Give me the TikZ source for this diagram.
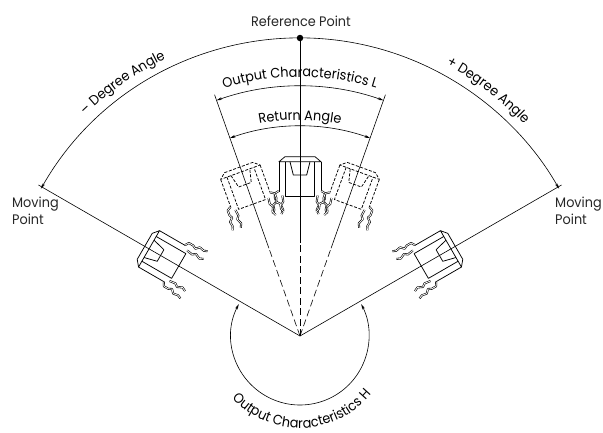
\documentclass[tikz,border=0pt]{standalone}
\usepackage{fontspec}
\setmainfont[FakeStretch=0.93]{Poppins}
\usetikzlibrary{arrows.meta,decorations.text}
\newcommand\lblfont{\fontsize{13.8}{16.5}\selectfont}
\newcommand\swbody[1]{%
  \draw[#1] (-15,179.3) -- (15,179.3) -- (21,174.3) -- (-21,174.3) -- cycle;
  \draw[#1] (-21,174.3) -- (-21,144.3);
  \draw[#1] (21,174.3) -- (21,144.3);
  \draw[#1] (-14.3,174.3) -- (-14.3,140) -- (14.3,140) -- (14.3,174.3);
  \draw[#1] (-10,174.3) -- (-6.7,161) -- (6.7,161) -- (10,174.3);
}
\newcommand\swlegs{%
  \draw[legline] (-21.3,145) -- (-25,142.7) -- (-25,137.7) -- (-23.3,134.3) -- (-26.7,131) -- (-25.7,126) -- (-27.2,122.4);
  \draw[legline] (-17.6,140.5) -- (-16.7,134.3) -- (-19,131) -- (-16.7,126) -- (-18.6,122);
  \draw[legline] (21.3,145) -- (25,142.7) -- (25,137.7) -- (23.3,134.3) -- (26.7,131) -- (25.7,126) -- (27.2,122.4);
  \draw[legline] (17.6,140.5) -- (16.7,134.3) -- (19,131) -- (16.7,126) -- (18.6,122);
}
\tikzset{
  base line/.style={line width=0.6pt, draw=black},
  dash line/.style={base line, dash pattern=on 7pt off 3.5pt},
  body line/.style={line width=0.75pt, draw=black, line join=round},
  body dash/.style={body line, dash pattern=on 3pt off 1.6pt},
  legline/.style={draw=black, line width=0.6pt, double=white, double distance=0.8pt, line join=round},
  arr/.style={base line, {Stealth[length=5.5pt,width=2.8pt]}-{Stealth[length=5.5pt,width=2.8pt]}},
  lbl/.style={font=\lblfont, text=black!85, inner sep=0pt},
}
\begin{document}
\begin{tikzpicture}[x=1pt,y=1pt]
\useasboundingbox (-300,-96) rectangle (303,336);
\coordinate (P) at (0,0);
\coordinate (R) at (90:298);
\coordinate (ML) at (150:302);
\coordinate (MR) at (30:302);
\coordinate (CD) at (90:93);
\coordinate (LD) at (109.5:93);
\coordinate (RD) at (70.5:93);
\coordinate (LT) at (109.5:256);
\coordinate (RT) at (70.5:256);
% radial lines
\draw[base line] (P) -- (ML);
\draw[base line] (P) -- (MR);
\draw[dash line] (P) -- (CD);
\draw[base line] (CD) -- (R);
\draw[dash line] (P) -- (LD);
\draw[base line] (LD) -- (LT);
\draw[dash line] (P) -- (RD);
\draw[base line] (RD) -- (RT);
% arcs
\draw[arr] (150.4:298) arc[start angle=150.4, end angle=29.6, radius=298];
\draw[arr] (109.5:250) arc[start angle=109.5, end angle=70.5, radius=250];
\draw[arr] (109.5:210) arc[start angle=109.5, end angle=70.5, radius=210];
\draw[arr] (152.5:69) arc[start angle=152.5, end angle=387.5, radius=69];
% reference point
\node[circle, fill=black, inner sep=0pt, minimum size=6.5pt] (dot) at (R) {};
\node[lbl, anchor=base] (reftxt) at (1,310) {Reference Point};
\node[lbl, anchor=north west, align=left] (mvl) at (-288,139) {Moving\\Point};
\node[lbl, anchor=north west, align=left] (mvr) at (255,139) {Moving\\Point};
% curved labels
\path[decorate, decoration={text along path, text={|\lblfont|Output Characteristics L}, text align=center}]
  (111:259) arc[start angle=111, end angle=69, radius=259];
\path[decorate, decoration={text along path, text={|\lblfont|Return Angle}, text align=center}]
  (107:216) arc[start angle=107, end angle=73, radius=216];
\path[decorate, decoration={text along path, text={|\lblfont|– Degree Angle}, text align=center}]
  (142:308) arc[start angle=142, end angle=108, radius=308];
\path[decorate, decoration={text along path, text={|\lblfont|+ Degree Angle}, text align=center}]
  (69.5:308) arc[start angle=69.5, end angle=35.5, radius=308];
\path[decorate, decoration={text along path, text={|\lblfont|Output Characteristics H}, text align=center}]
  (196:92) arc[start angle=196, end angle=347, radius=92];
% switches
\swbody{body line}
\swlegs
\begin{scope}[rotate=20]
  \swbody{body dash}
  \swlegs
\end{scope}
\begin{scope}[rotate=-20]
  \swbody{body dash}
  \swlegs
\end{scope}
\begin{scope}[rotate=60]
  \swbody{body line}
  \swlegs
\end{scope}
\begin{scope}[rotate=-60]
  \swbody{body line}
  \swlegs
\end{scope}
\end{tikzpicture}
\end{document}
